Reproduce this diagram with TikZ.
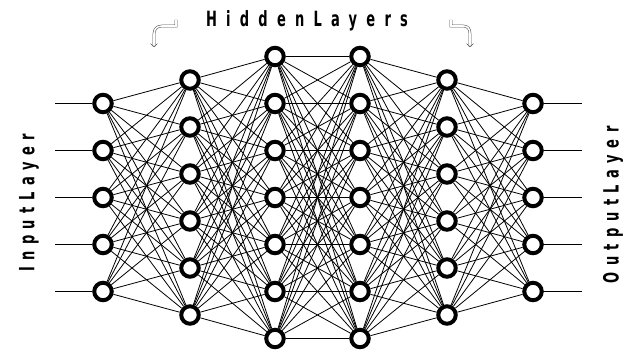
\documentclass[tikz,border=0pt]{standalone}
\usepackage{fontspec}
\newfontfamily\sidefont{DejaVu Sans}[FakeStretch=0.62,LetterSpace=31]
\newfontfamily\topfont{DejaVu Sans}[FakeStretch=0.62,LetterSpace=44]
\usetikzlibrary{arrows.meta}

\begin{document}
\begin{tikzpicture}[
    x=1pt, y=-1pt,
    neuron/.style={draw, circle, fill=white, line width=4pt, minimum size=17.5pt, inner sep=0pt},
    link/.style={line width=0.8pt},
    caption/.style={font=\bfseries\fontsize{21}{21}\selectfont, inner sep=0pt},
    curl/.style={draw=black!70, line width=0.5pt, double, double distance=1.6pt, -{Straight Barb[length=3pt, width=7pt]}}
]
\useasboundingbox (0,0) rectangle (628,352);

% Neurons
\foreach \n/\x [count=\l] in {5/103, 6/190, 7/275, 7/360, 6/447, 5/533}
  \foreach \i in {1,...,\n}
    \node[neuron] (n\l-\i) at (\x, {197.5 + (\i - (\n+1)/2)*47}) {};

% Links between layers
\foreach \a/\p/\q in {1/5/6, 2/6/7, 3/7/7, 4/7/6, 5/6/5} {
  \pgfmathtruncatemacro\b{\a+1}
  \foreach \i in {1,...,\p}
    \foreach \j in {1,...,\q}
      \draw[link] (n\a-\i) -- (n\b-\j);
}

% Inputs and outputs
\foreach \i in {1,...,5} {
  \path (n1-\i) ++(-48,0) coordinate (in\i);
  \path (n6-\i) ++(49,0) coordinate (out\i);
  \draw[link] (in\i) -- (n1-\i);
  \draw[link] (n6-\i) -- (out\i);
}

% Labels
\node[caption, rotate=90] (inlabel) at (29,203) {\sidefont\bfseries InputLayer};
\node[caption, rotate=90] (outlabel) at (613,205) {\sidefont\bfseries OutputLayer};
\node[caption] (hidden) at (307,21) {\topfont\bfseries HiddenLayers};

% Curled arrows
\draw[curl] (176,20) |- (162,26) .. controls (157,26) and (154,29) .. (154,34) -- (154,47);
\draw[curl] (451,20) |- (463,26) .. controls (468,26) and (470,29) .. (470,34) -- (470,47);

\end{tikzpicture}
\end{document}
